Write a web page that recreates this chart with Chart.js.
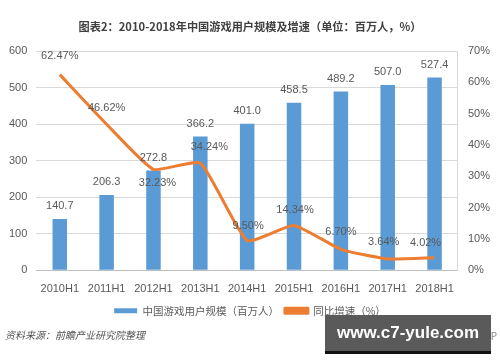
<!DOCTYPE html>
<html><head><meta charset="utf-8">
<script src="https://cdn.jsdelivr.net/npm/chart.js@4/dist/chart.umd.min.js"></script>
<style>
html,body{margin:0;padding:0;background:#fff;}
#wrap{position:relative;width:500px;height:362px;overflow:hidden;}
#c{position:absolute;left:0;top:0;}
#src{position:absolute;left:5px;top:327px;font:italic 10px "Noto Sans CJK SC";color:#555;white-space:nowrap;}
#app{position:absolute;right:3px;top:328px;font:10px "Noto Sans CJK SC";color:#888;white-space:nowrap;}
#wm{position:absolute;left:325px;top:315px;width:166px;height:36px;background:#5a5a5a;border-bottom:3px solid #111;color:#fff;font:bold 17px "Liberation Sans";text-align:center;line-height:36px;white-space:nowrap;overflow:hidden;}
</style></head>
<body><div id="wrap"><canvas id="c" width="500" height="362" style="width:500px;height:362px"></canvas>
<div id="src">资料来源：前瞻产业研究院整理</div>
<div id="app">前瞻经济学人APP</div>
<div id="wm">www.c7-yule.com</div></div>
<script>
const categories = ['2010H1','2011H1','2012H1','2013H1','2014H1','2015H1','2016H1','2017H1','2018H1'];
const userScale = [140.7, 206.3, 272.8, 366.2, 401.0, 458.5, 489.2, 507.0, 527.4];
const growthRate = [62.47, 46.62, 32.23, 34.24, 9.50, 14.34, 6.70, 3.64, 4.02];
const seriesNames = ['中国游戏用户规模（百万人）', '同比增速（%）'];
const titleText = '图表2：2010-2018年中国游戏用户规模及增速（单位：百万人，%）';

const FONT = '"Liberation Sans", "Noto Sans CJK SC", sans-serif';
const CJK = '"Noto Sans CJK SC", "Liberation Sans", sans-serif';
const TXT = '#595959';

const valueLabels = {
  id: 'valueLabels',
  afterDatasetsDraw(chart, args, opts) {
    const ctx = chart.ctx;
    ctx.save();
    ctx.font = '11px ' + FONT;
    ctx.fillStyle = TXT;
    ctx.textAlign = 'center';
    ctx.textBaseline = 'middle';
    chart.data.datasets.forEach((ds, i) => {
      const meta = chart.getDatasetMeta(i);
      const offs = opts.offsets[i];
      meta.data.forEach((el, j) => {
        const o = offs[j] || offs[0];
        const v = ds.data[j];
        const txt = i === 0 ? v.toFixed(1) : v.toFixed(2) + '%';
        ctx.fillText(txt, el.x + o[0], el.y + o[1]);
      });
    });
    ctx.restore();
  }
};

new Chart(document.getElementById('c'), {
  data: {
    labels: categories,
    datasets: [
      {
        type: 'bar', label: seriesNames[0], data: userScale, yAxisID: 'y',
        backgroundColor: '#5B9BD5', borderWidth: 0,
        barPercentage: 0.31, categoryPercentage: 1.0, order: 1
      },
      {
        type: 'line', label: seriesNames[1], data: growthRate, yAxisID: 'y1',
        borderColor: '#ED7D31', backgroundColor: '#ED7D31', borderWidth: 3,
        pointRadius: 0, tension: 0.15, order: 0, borderJoinStyle: 'round'
      }
    ]
  },
  options: {
    responsive: false, animation: false,
    layout: { padding: { left: 0, right: 0, top: 0, bottom: 36 } },
    plugins: {
      title: { display: true, text: titleText, color: '#404040',
        font: { family: CJK, size: 11.2, weight: 'bold' }, padding: { top: 20, bottom: 17.6 } },
      legend: {
        position: 'bottom',
        labels: {
          color: TXT, font: { family: CJK, size: 10.5 }, boxWidth: 23, boxHeight: 5, padding: 6,
          sort: (a, b) => a.datasetIndex - b.datasetIndex
        }
      },
      tooltip: { enabled: false },
      valueLabels: {
        offsets: [
          [[0, -13]],
          [[0, -19], [0, -16], [4, 14], [9, -16], [1, -15], [1, -15], [0, -17], [-4, -17], [-9, -15]]
        ]
      }
    },
    scales: {
      x: {
        grid: { display: false },
        border: { color: '#bfbfbf' },
        ticks: { color: TXT, font: { family: FONT, size: 11 }, padding: 4, maxRotation: 0, minRotation: 0, autoSkip: false }
      },
      y: {
        position: 'left', min: 0, max: 600,
        ticks: { stepSize: 100, color: TXT, font: { family: FONT, size: 11 }, padding: 9 },
        grid: { color: '#d9d9d9', drawTicks: false },
        border: { display: false }
      },
      y1: {
        position: 'right', min: 0, max: 70,
        ticks: { stepSize: 10, color: TXT, font: { family: FONT, size: 11 }, padding: 10,
          callback: v => v + '%' },
        grid: { drawOnChartArea: false, drawTicks: false },
        border: { color: '#d9d9d9' }
      }
    }
  },
  plugins: [valueLabels]
});
</script>
</body></html>
